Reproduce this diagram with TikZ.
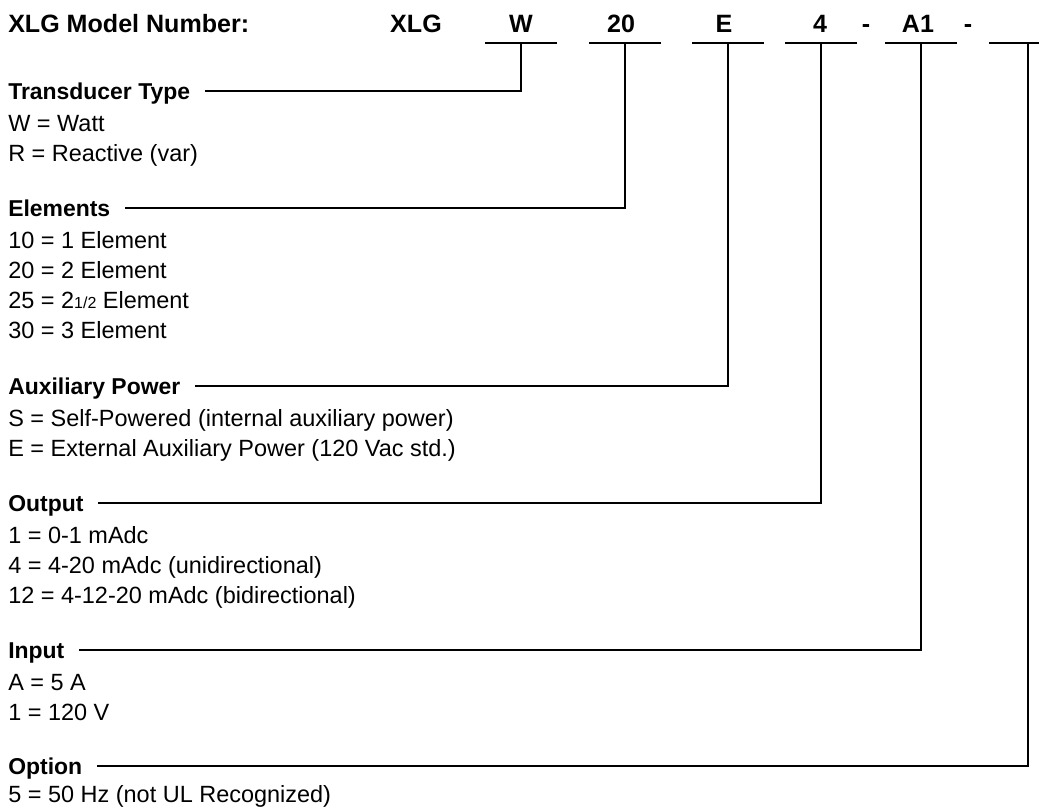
\documentclass[tikz,border=0pt]{standalone}
\usepackage{fontspec}
\setmainfont{Liberation Sans}
\usepackage{tikz}
\usetikzlibrary{positioning}

\begin{document}
\begin{tikzpicture}[x=0.75pt,y=-0.75pt,
  code/.style={font=\fontsize{18.8}{20}\selectfont\bfseries,inner sep=0pt,anchor=base},
  sect/.style={font=\fontsize{17.2}{18}\selectfont\bfseries,inner sep=0pt,anchor=west,text height=12.3pt,text depth=0pt},
  item/.style={font=\fontsize{17.6}{18}\selectfont,inner sep=0pt,anchor=base west},
  lead/.style={line width=2.2pt}]
\useasboundingbox (0,0) rectangle (1039,808);
% model number line
\node[code,anchor=base west] (title) at (8,32) {XLG Model Number:};
\node[code] (cXLG) at (416,32) {XLG};
\node[code] (cW) at (521,32) {W};
\node[code] (c20) at (621,32) {20};
\node[code] (cE) at (724,32) {E};
\node[code] (c4) at (820,32) {4};
\node[code] (d1) at (866,32) {-};
\node[code] (cA1) at (918,32) {A1};
\node[code] (d2) at (968,32) {-};
\coordinate (uW) at (521,43);
\coordinate (u20) at (625,43);
\coordinate (uE) at (728,43);
\coordinate (u4) at (821,43);
\coordinate (uA1) at (921,43);
\coordinate (uP) at (1028,43);
\foreach \u in {uW,u20,uE,u4,uA1}
  \draw[lead] ([xshift=-27]\u) -- ([xshift=27]\u);
\draw[lead] ([xshift=-29]uP) -- (1039,43);
% fields
\node[sect] (hdT) at (8,91) {Transducer Type};
\node[item] (t1) at (8,131) {W = Watt};
\node[item] (t2) at (8,161) {R = Reactive (var)};
\node[sect] (hdE) at (8,208) {Elements};
\node[item] (e1) at (8,248) {10 = 1 Element};
\node[item] (e2) at (8,278) {20 = 2 Element};
\node[item] (e3) at (8,308) {25 = 2{\fontsize{12}{12}\selectfont 1/2} Element};
\node[item] (e4) at (8,338) {30 = 3 Element};
\node[sect] (hdA) at (8,386) {Auxiliary Power};
\node[item] (a1) at (8,426) {S = Self-Powered (internal auxiliary power)};
\node[item] (a2) at (8,456) {E = External Auxiliary Power (120 Vac std.)};
\node[sect] (hdO) at (8,503) {Output};
\node[item] (o1) at (8,543) {1 = 0-1 mAdc};
\node[item] (o2) at (8,573) {4 = 4-20 mAdc (unidirectional)};
\node[item] (o3) at (8,603) {12 = 4-12-20 mAdc (bidirectional)};
\node[sect] (hdI) at (8,650) {Input};
\node[item] (i1) at (8,690) {A = 5 A};
\node[item] (i2) at (8,720) {1 = 120 V};
\node[sect] (hdP) at (8,766) {Option};
\node[item] (p1) at (8,802) {5 = 50 Hz (not UL Recognized)};
% leader lines
\draw[lead] ([xshift=11]hdT.east) -- (hdT.east -| uW) -- (uW);
\draw[lead] ([xshift=11]hdE.east) -- (hdE.east -| u20) -- (u20);
\draw[lead] ([xshift=11]hdA.east) -- (hdA.east -| uE) -- (uE);
\draw[lead] ([xshift=11]hdO.east) -- (hdO.east -| u4) -- (u4);
\draw[lead] ([xshift=11]hdI.east) -- (hdI.east -| uA1) -- (uA1);
\draw[lead] ([xshift=11]hdP.east) -- (hdP.east -| uP) -- (uP);
\end{tikzpicture}
\end{document}
